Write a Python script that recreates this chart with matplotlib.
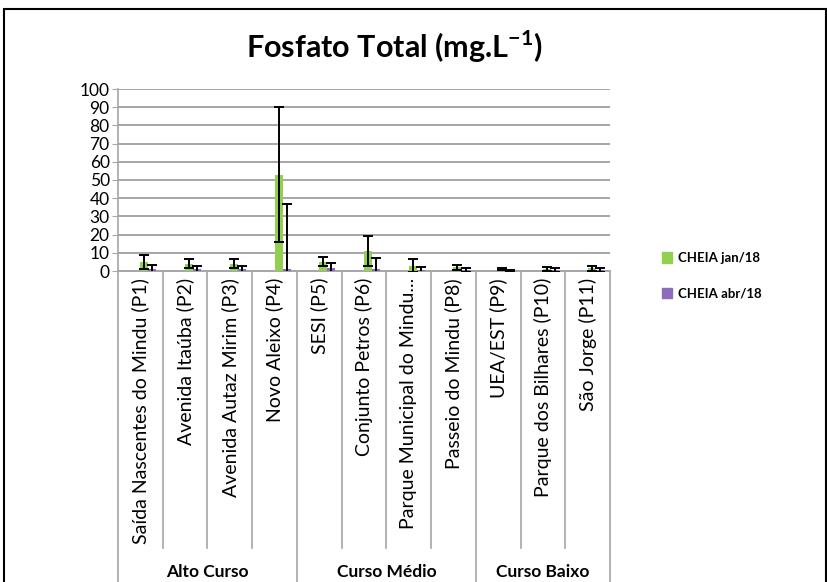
import matplotlib
matplotlib.use('Agg')
import numpy as np
from matplotlib import pyplot as plt
from matplotlib.patches import Patch, Rectangle

plt.rcParams['font.family'] = ['Lato', 'DejaVu Sans']

# Data.
points = ['Saída Nascentes do Mindu (P1)', 'Avenida Itaúba (P2)',
          'Avenida Autaz Mirim (P3)', 'Novo Aleixo (P4)', 'SESI (P5)',
          'Conjunto Petros (P6)', 'Parque Municipal do Mindu...',
          'Passeio do Mindu (P8)', 'UEA/EST (P9)', 'Parque dos Bilhares (P10)',
          'São Jorge (P11)']
groups = ['Alto Curso', 'Curso Médio', 'Curso Baixo']
group_sizes = [4, 4, 3]

jan = [5, 4, 4, 53, 5, 11, 3, 2, 1, 1, 1.5]
jan_err = [4, 2.5, 2.5, 37, 2.5, 8, 3.5, 1.5, 0.5, 1.2, 1.5]
abr = [1, 1, 1, 1, 1.5, 1, 0.5, 0.5, 0.3, 0.5, 0.5]
abr_err = [2.5, 2, 2, 36, 3, 6, 1.5, 1, 0.5, 1, 1]

green = '#92D050'
purple = '#8E6BBE'
grid_gray = '#A6A6A6'

fig = plt.figure(figsize=(8.28, 5.82), dpi=100)
ax = fig.add_axes([118 / 828, 1 - 271 / 582, (610 - 118) / 828, (271 - 89) / 582])

x = np.arange(len(points))
w = 0.18
ax.bar(x + 0.09, jan, w, color=green, zorder=3)
ax.bar(x + 0.27, abr, w, color=purple, zorder=3)
ax.errorbar(x + 0.09, jan, yerr=jan_err, fmt='none', ecolor='black',
            elinewidth=1.4, capsize=3.5, capthick=1.4, zorder=4)
ax.errorbar(x + 0.27, abr, yerr=abr_err, fmt='none', ecolor='black',
            elinewidth=1.4, capsize=3.5, capthick=1.4, zorder=4)

ax.set_ylim(0, 100)
ax.set_xlim(-0.5, len(points) - 0.5)
ax.set_yticks(range(0, 101, 10))
ax.yaxis.grid(True, color=grid_gray, lw=1.4)
ax.set_axisbelow(True)
for s in ['top', 'right']:
    ax.spines[s].set_visible(False)
ax.spines['left'].set_color(grid_gray)
ax.spines['bottom'].set_color(grid_gray)
ax.spines['left'].set_linewidth(1.2)
ax.spines['bottom'].set_linewidth(1.4)
ax.tick_params(axis='y', labelsize=12.5, colors='black', color=grid_gray,
               length=4, pad=2)
ax.set_xticks(x)
ax.set_xticklabels(points, rotation=90, fontsize=14, va='top')
ax.tick_params(axis='x', length=0, pad=5)

# Category separators below the axis.
bounds = np.cumsum([0] + group_sizes) - 0.5
for i in range(len(points) + 1):
    pos = i - 0.5
    if pos in bounds:
        ymin = -1.8
    else:
        ymin = -1.52
    ax.plot([pos, pos], [0, ymin], transform=ax.get_xaxis_transform(),
            color=grid_gray, lw=1.2, clip_on=False)

for g, a, b in zip(groups, bounds[:-1], bounds[1:]):
    ax.text((a + b) / 2, -1.655, g, transform=ax.get_xaxis_transform(),
            ha='center', va='center', fontsize=12.5, fontweight='bold')

fig.text(394 / 828, 1 - 47 / 582, 'Fosfato Total (mg.L$^{\\mathregular{-1}}$)',
         ha='center', va='center', fontsize=22, fontweight='bold')

handles = [Patch(color=green, label='CHEIA jan/18'),
           Patch(color=purple, label='CHEIA abr/18')]
fig.legend(handles=handles, loc='center left',
           bbox_to_anchor=(650 / 828, 1 - 276 / 582), frameon=False,
           handlelength=0.8, handleheight=0.8, handletextpad=0.4,
           labelspacing=1.8, prop={'size': 9.5, 'weight': 'bold'})

# Outer chart border (cropped at the bottom).
fig.patches.append(Rectangle((4 / 828, -0.1), 822 / 828, 1.1 - 9 / 582,
                             transform=fig.transFigure, fill=False,
                             edgecolor='black', lw=1.5))

fig.savefig('out.png', dpi=100)
